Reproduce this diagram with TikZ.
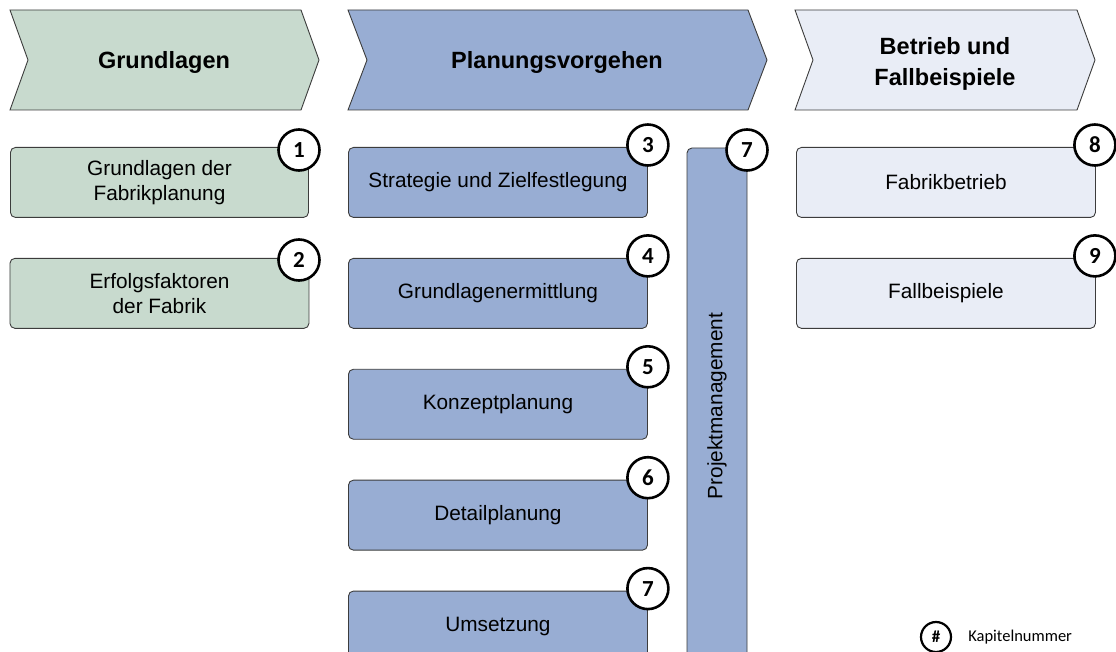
\documentclass[tikz,border=0pt]{standalone}
\usepackage{fontspec}
\setmainfont{Liberation Sans}
\newfontfamily\calibri{Carlito}
\usepackage{tikz}
\usetikzlibrary{positioning}
\definecolor{gruen}{RGB}{200,218,206}
\definecolor{blau}{RGB}{152,173,211}
\definecolor{hellblau}{RGB}{233,237,246}
\definecolor{rand}{RGB}{60,60,60}

\begin{document}
\begin{tikzpicture}[x=1pt,y=-1pt,
    box/.style={draw=rand,line width=0.9pt,rounded corners=5pt,minimum width=299pt,minimum height=70pt,inner sep=0pt,align=center,font=\fontsize{20.8}{25}\selectfont},
    nr/.style={circle,draw,line width=2.6pt,fill=white,minimum size=41pt,inner sep=0pt,font=\calibri\bfseries\fontsize{23}{23}\selectfont},
    phase/.style={draw=rand,line width=0.9pt},
    titel/.style={font=\bfseries\fontsize{23.5}{31}\selectfont,align=center}]
  \useasboundingbox (0,0) rectangle (1116,652);

  % Phasen
  \draw[phase,fill=gruen] (10,10) -- (301,10) -- (319,60) -- (301,110) -- (10,110) -- (28,60) -- cycle;
  \node[titel](p1) at (164,62){Grundlagen};
  \draw[phase,fill=blau] (348,10) -- (748,10) -- (767,60) -- (748,110) -- (348,110) -- (367,60) -- cycle;
  \node[titel](p2) at (557,62){Planungsvorgehen};
  \draw[phase,fill=hellblau] (795,10) -- (1077,10) -- (1095,60) -- (1077,110) -- (795,110) -- (813,60) -- cycle;
  \node[titel](p3) at (945,64){Betrieb und\\Fallbeispiele};

  % Grundlagen
  \node[box,fill=gruen,anchor=north west,minimum width=298pt](b1) at (10,147){Grundlagen der\\Fabrikplanung};
  \node[box,fill=gruen,below=40pt of b1](b2){Erfolgsfaktoren\\der Fabrik};
  \node[nr](n1) at (299,150){1};
  \node[nr](n2) at (299,260){2};

  % Planungsvorgehen
  \node[box,fill=blau,anchor=north west](b3) at (348,147){Strategie und Zielfestlegung};
  \node[box,fill=blau,below=40pt of b3](b4){Grundlagenermittlung};
  \node[box,fill=blau,below=40pt of b4](b5){Konzeptplanung};
  \node[box,fill=blau,below=40pt of b5](b6){Detailplanung};
  \node[box,fill=blau,below=40pt of b6](b7){Umsetzung};
  \node[box,fill=blau,rotate=90,minimum width=516pt,minimum height=60pt](pm) at (717,406){Projektmanagement};
  \foreach \k/\n in {3/3,4/4,5/5,6/6,7/7}
    \node[nr](n\k) at ([yshift=2pt]b\k.north east){\n};
  \node[nr](npm) at (747,150){7};

  % Betrieb und Fallbeispiele
  \node[box,fill=hellblau,anchor=north west](b8) at (796,147){Fabrikbetrieb};
  \node[box,fill=hellblau,below=40pt of b8](b9){Fallbeispiele};
  \node[nr](n8) at ([yshift=2pt,xshift=-1pt]b8.north east){8};
  \node[nr](n9) at ([yshift=2pt,xshift=-1pt]b9.north east){9};

  % Legende
  \node[nr,minimum size=30pt,line width=2.2pt,font=\calibri\bfseries\fontsize{17}{17}\selectfont](leg) at (936,637){\#};
  \node[right=16pt of leg,inner sep=0pt,font=\calibri\fontsize{16.5}{16.5}\selectfont](legtext){Kapitelnummer};
\end{tikzpicture}
\end{document}
